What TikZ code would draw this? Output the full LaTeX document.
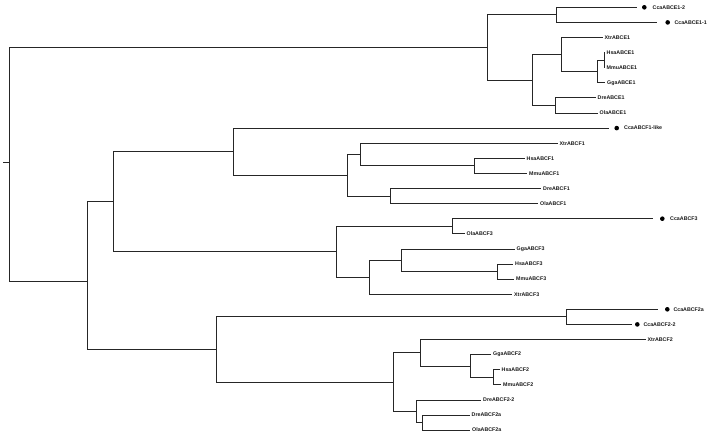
\documentclass[tikz,border=0pt]{standalone}
\usepackage{fontspec}
\setmainfont{Liberation Sans}
\begin{document}
\begin{tikzpicture}[x=1pt,y=-1pt,
  br/.style={draw=black!85,line width=0.8pt},
  leaf/.style={anchor=west,inner xsep=2pt,inner ysep=0pt,font=\fontsize{5.3}{6}\selectfont\bfseries,text=black!90},
  lab/.style={anchor=west,inner sep=0pt,font=\fontsize{5.3}{6}\selectfont\bfseries,text=black!90},
  dot/.style={circle,fill=black,inner sep=0pt,minimum size=4.6pt}]
\useasboundingbox (0,0) rectangle (710,436);
% internal nodes
\coordinate (S) at (3,162);
\coordinate (R) at (9.3,162);
\coordinate (n1) at (487.3,47.4);
\coordinate (n2) at (556,14.85);
\coordinate (n3) at (532.7,80);
\coordinate (n4) at (561.7,54.5);
\coordinate (n5) at (555.7,105.45);
\coordinate (n6) at (597.3,71.5);
\coordinate (n7) at (604,60.15);
\coordinate (e0) at (87.5,281);
\coordinate (c0) at (113.5,201.7);
\coordinate (a1) at (233.3,151.7);
\coordinate (a2) at (347.3,175.3);
\coordinate (a3) at (360.7,154.5);
\coordinate (a4) at (474,165.85);
\coordinate (a5) at (390,196.05);
\coordinate (b1) at (336,251.7);
\coordinate (b2) at (452.7,226.25);
\coordinate (b3) at (369.3,277.2);
\coordinate (b4) at (401.7,260.2);
\coordinate (b5) at (497.7,271.55);
\coordinate (d1) at (216.7,349.4);
\coordinate (d2) at (566.7,316.85);
\coordinate (d3) at (393.3,381.95);
\coordinate (d4) at (420,352.7);
\coordinate (d5) at (470,365.9);
\coordinate (d6) at (493.3,377.25);
\coordinate (d7) at (416.7,411.2);
\coordinate (d8) at (422,422.55);
% leaves with dots
\coordinate (t0) at (637.3,7.3);
\node[dot] (o0) at (644.3,7.3) {};
\node[lab] (l0) at (652.5,7.3) {CcaABCE1-2};
\coordinate (t1) at (657.3,22.4);
\node[dot] (o1) at (667.7,22.4) {};
\node[lab] (l1) at (674.3,22.4) {CcaABCE1-1};
\coordinate (t8) at (609,128.1);
\node[dot] (o8) at (616.7,128.1) {};
\node[lab] (l8) at (624,128.1) {CcaABCF1-like};
\coordinate (t14) at (653.3,218.7);
\node[dot] (o14) at (662.3,218.7) {};
\node[lab] (l14) at (670,218.7) {CcaABCF3};
\coordinate (t20) at (658.3,309.3);
\node[dot] (o20) at (667.3,309.3) {};
\node[lab] (l20) at (673.3,309.3) {CcaABCF2a};
\coordinate (t21) at (631.7,324.4);
\node[dot] (o21) at (637.3,324.4) {};
\node[lab] (l21) at (643.3,324.4) {CcaABCF2-2};
% plain leaves
\node[leaf] (l2) at (602.5,37.5) {XtrABCE1};
\node[leaf] (l3) at (604.5,52.6) {HsaABCE1};
\node[leaf] (l4) at (604.5,67.7) {MmuABCE1};
\node[leaf] (l5) at (605,82.8) {GgaABCE1};
\node[leaf] (l6) at (595.5,97.9) {DreABCE1};
\node[leaf] (l7) at (597.5,113.0) {OlaABCE1};
\node[leaf] (l9) at (557.5,143.2) {XtrABCF1};
\node[leaf] (l10) at (524.5,158.3) {HsaABCF1};
\node[leaf] (l11) at (527,173.4) {MmuABCF1};
\node[leaf] (l12) at (541,188.5) {DreABCF1};
\node[leaf] (l13) at (538,203.6) {OlaABCF1};
\node[leaf] (l15) at (464.5,233.8) {OlaABCF3};
\node[leaf] (l16) at (514.5,248.9) {GgaABCF3};
\node[leaf] (l17) at (513,264.0) {HsaABCF3};
\node[leaf] (l18) at (514,279.1) {MmuABCF3};
\node[leaf] (l19) at (512,294.2) {XtrABCF3};
\node[leaf] (l22) at (645.5,339.5) {XtrABCF2};
\node[leaf] (l23) at (491,354.6) {GgaABCF2};
\node[leaf] (l24) at (499.5,369.7) {HsaABCF2};
\node[leaf] (l25) at (501,384.8) {MmuABCF2};
\node[leaf] (l26) at (481,399.9) {DreABCF2-2};
\node[leaf] (l27) at (469.5,415.0) {DreABCF2a};
\node[leaf] (l28) at (470,430.1) {OlaABCF2a};
% branches
\draw[br] (S) -- (R);
\draw[br] (R) |- (n1);
\draw[br] (R) |- (e0);
\draw[br] (n1) |- (n2);
\draw[br] (n1) |- (n3);
\draw[br] (n2) |- (t0);
\draw[br] (n2) |- (t1);
\draw[br] (n3) |- (n4);
\draw[br] (n3) |- (n5);
\draw[br] (n4) |- (l2.west);
\draw[br] (n4) |- (n6);
\draw[br] (n6) |- (n7);
\draw[br] (n6) |- (l5.west);
\draw[br] (n7) |- (l3.west);
\draw[br] (n7) |- (l4.west);
\draw[br] (n5) |- (l6.west);
\draw[br] (n5) |- (l7.west);
\draw[br] (e0) |- (c0);
\draw[br] (e0) |- (d1);
\draw[br] (c0) |- (a1);
\draw[br] (c0) |- (b1);
\draw[br] (a1) |- (t8);
\draw[br] (a1) |- (a2);
\draw[br] (a2) |- (a3);
\draw[br] (a2) |- (a5);
\draw[br] (a3) |- (l9.west);
\draw[br] (a3) |- (a4);
\draw[br] (a4) |- (l10.west);
\draw[br] (a4) |- (l11.west);
\draw[br] (a5) |- (l12.west);
\draw[br] (a5) |- (l13.west);
\draw[br] (b1) |- (b2);
\draw[br] (b1) |- (b3);
\draw[br] (b2) |- (t14);
\draw[br] (b2) |- (l15.west);
\draw[br] (b3) |- (b4);
\draw[br] (b3) |- (l19.west);
\draw[br] (b4) |- (l16.west);
\draw[br] (b4) |- (b5);
\draw[br] (b5) |- (l17.west);
\draw[br] (b5) |- (l18.west);
\draw[br] (d1) |- (d2);
\draw[br] (d1) |- (d3);
\draw[br] (d2) |- (t20);
\draw[br] (d2) |- (t21);
\draw[br] (d3) |- (d4);
\draw[br] (d3) |- (d7);
\draw[br] (d4) |- (l22.west);
\draw[br] (d4) |- (d5);
\draw[br] (d5) |- (l23.west);
\draw[br] (d5) |- (d6);
\draw[br] (d6) |- (l24.west);
\draw[br] (d6) |- (l25.west);
\draw[br] (d7) |- (l26.west);
\draw[br] (d7) |- (d8);
\draw[br] (d8) |- (l27.west);
\draw[br] (d8) |- (l28.west);
\end{tikzpicture}
\end{document}
